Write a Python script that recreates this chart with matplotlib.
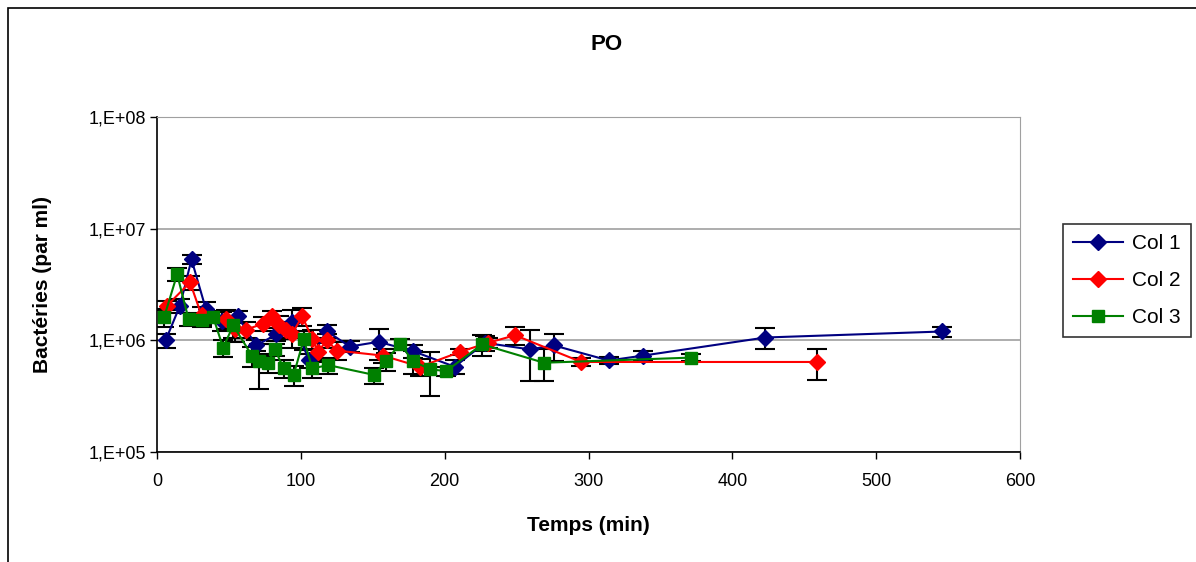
import matplotlib
matplotlib.use('Agg')
import matplotlib.pyplot as plt
from matplotlib.patches import Rectangle
from matplotlib.ticker import FixedLocator, NullLocator
import numpy as np

plt.rcParams['font.family'] = ['Liberation Sans', 'DejaVu Sans']

# Données (temps en min, bactéries en millions par ml)
t1 = [6, 16, 24, 34, 45, 56, 69, 83, 94, 106, 118, 134, 154, 178, 207, 228, 259, 276, 314, 338, 423, 546]
v1 = [1.0, 2.05, 5.3, 1.9, 1.5, 1.64, 0.9, 1.13, 1.46, 0.66, 1.21, 0.88, 0.97, 0.80, 0.58, 0.95, 0.83, 0.90, 0.66, 0.73, 1.06, 1.2]
e1 = [0.15, 0.3, 0.5, 0.3, 0.3, 0.2, 0.1, 0.15, 0.4, 0.1, 0.15, 0.1, 0.3, 0.1, 0.08, 0.15, 0.4, 0.25, 0.05, 0.07, 0.22, 0.12]

t2 = [7, 23, 31, 48, 54, 62, 74, 80, 85, 90, 94, 101, 108, 112, 118, 125, 157, 183, 211, 230, 249, 295, 459]
v2 = [2.05, 3.3, 1.67, 1.56, 1.27, 1.25, 1.41, 1.64, 1.36, 1.23, 1.15, 1.64, 1.03, 0.79, 1.0, 0.81, 0.73, 0.58, 0.79, 0.95, 1.11, 0.64, 0.64]
e2 = [0.2, 0.5, 0.3, 0.3, 0.3, 0.2, 0.2, 0.2, 0.3, 0.2, 0.3, 0.3, 0.2, 0.15, 0.15, 0.15, 0.1, 0.1, 0.05, 0.1, 0.2, 0.05, 0.2]

t3 = [5, 14, 22, 31, 39, 46, 53, 66, 71, 77, 82, 88, 95, 102, 108, 119, 151, 159, 169, 178, 190, 201, 226, 269, 371]
v3 = [1.62, 3.9, 1.54, 1.51, 1.62, 0.86, 1.36, 0.73, 0.65, 0.63, 0.83, 0.56, 0.49, 1.02, 0.56, 0.60, 0.49, 0.65, 0.93, 0.65, 0.55, 0.53, 0.92, 0.63, 0.70]
e3 = [0.3, 0.5, 0.2, 0.2, 0.2, 0.15, 0.3, 0.15, 0.28, 0.12, 0.1, 0.1, 0.1, 0.2, 0.1, 0.1, 0.08, 0.12, 0.1, 0.15, 0.23, 0.05, 0.2, 0.2, 0.05]

series = [
    ('Col 1', t1, v1, e1, '#000080', 'D', 8),
    ('Col 2', t2, v2, e2, '#FF0000', 'D', 8),
    ('Col 3', t3, v3, e3, '#008000', 's', 8),
]

fig = plt.figure(figsize=(11.96, 5.62), dpi=100)
# cadre de la zone du graphique
fig.patches.append(Rectangle((8 / 1196, -0.1), 1.2, (562 - 8) / 562 + 0.1,
                             transform=fig.transFigure, fill=False,
                             edgecolor='black', linewidth=1.2))

ax = fig.add_axes([157 / 1196, (562 - 452) / 562, (1020 - 157) / 1196, (452 - 117) / 562])

for name, t, v, e, col, mk, ms in series:
    v = np.array(v) * 1e6
    e = np.array(e) * 1e6
    ax.errorbar(t, v, yerr=e, fmt='none', ecolor='black', elinewidth=1.5,
                capsize=7, capthick=1.5, zorder=2)
    ax.plot(t, v, color=col, marker=mk, markersize=ms, linewidth=1.5,
            label=name, zorder=3)

ax.set_yscale('log')
ax.set_ylim(1e5, 1e8)
ax.set_xlim(0, 600)
ax.yaxis.set_major_locator(FixedLocator([1e5, 1e6, 1e7, 1e8]))
ax.yaxis.set_minor_locator(NullLocator())
ax.set_yticklabels(['1,E+05', '1,E+06', '1,E+07', '1,E+08'])
ax.set_xticks([0, 100, 200, 300, 400, 500, 600])
ax.grid(axis='y', color='#a0a0a0', linewidth=1.2)
ax.set_axisbelow(True)
ax.tick_params(labelsize=13, length=5, width=1, direction='out')
ax.tick_params(axis='x', pad=10)
ax.tick_params(axis='y', pad=3)
ax.spines['top'].set_color('#a0a0a0')
ax.spines['right'].set_color('#a0a0a0')
for s in ['left', 'bottom']:
    ax.spines[s].set_linewidth(1.2)

ax.set_xlabel('Temps (min)', fontsize=15, fontweight='bold', labelpad=19)
ax.set_ylabel('Bactéries (par ml)', fontsize=15, fontweight='bold', labelpad=26)
fig.text(607 / 1196, 1 - 45 / 562, 'PO', ha='center', va='center',
         fontsize=16, fontweight='bold')

leg = ax.legend(loc='upper left', bbox_to_anchor=(1063 / 1196, 1 - 224 / 562),
                bbox_transform=fig.transFigure, fontsize=15, frameon=True,
                fancybox=False, edgecolor='black', handlelength=2.4,
                labelspacing=0.85, borderpad=0.5, handletextpad=0.4,
                borderaxespad=0)
leg.get_frame().set_linewidth(1.2)

fig.savefig('out.png', dpi=100)
